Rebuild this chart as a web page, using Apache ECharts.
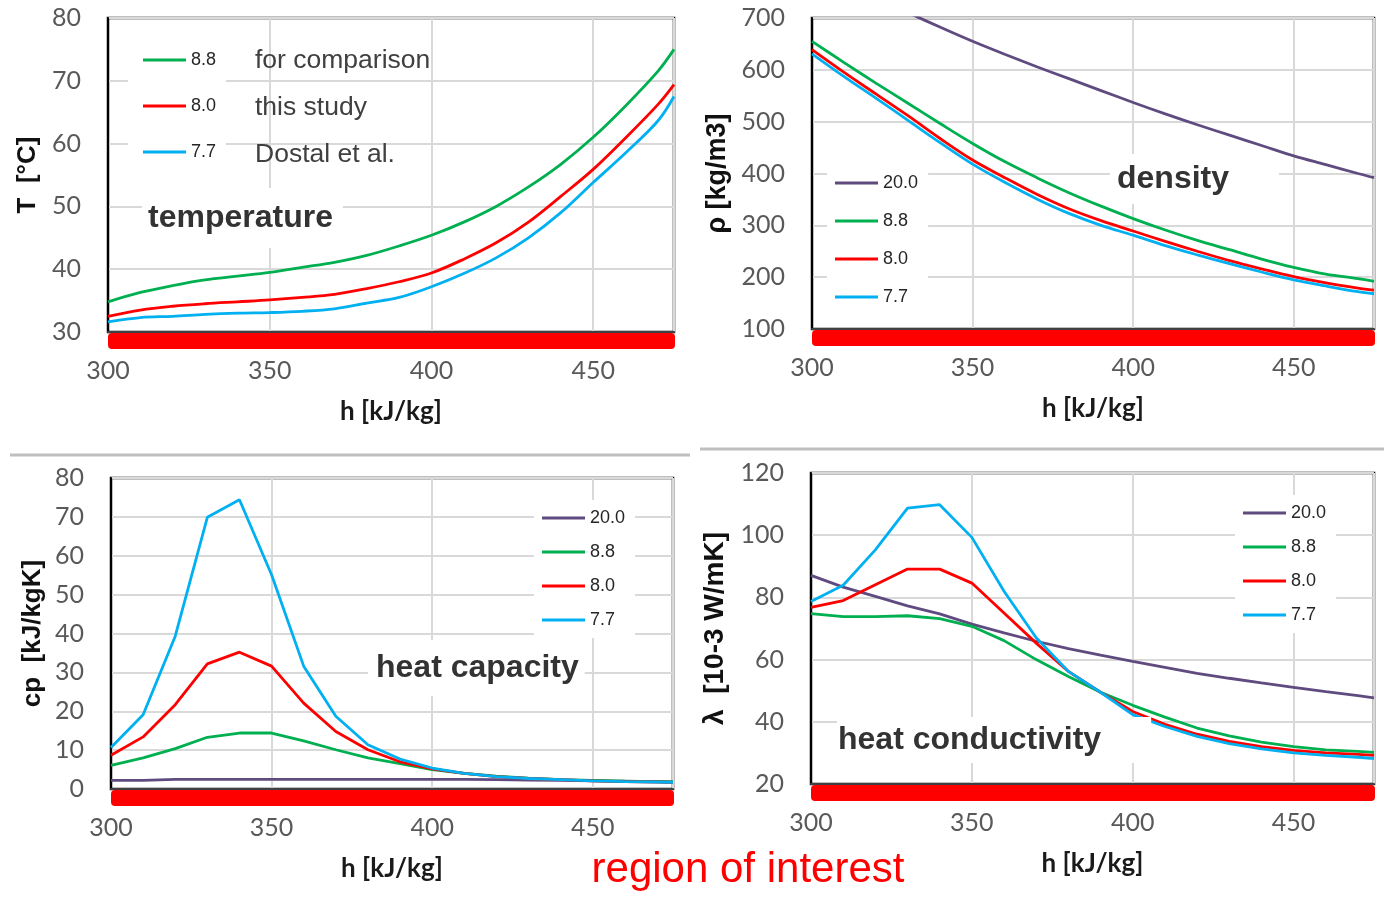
<!DOCTYPE html>
<html>
<head>
<meta charset="utf-8">
<script src="https://cdn.jsdelivr.net/npm/echarts@6/dist/echarts.min.js"></script>
<style>
  html, body { margin: 0; padding: 0; background: #ffffff; }
  #chart { width: 1384px; height: 903px; }
</style>
</head>
<body>
<div id="chart"></div>
<script>
// Enthalpy grid h [kJ/kg]
const enthalpy = [300, 310, 320, 330, 340, 350, 360, 370, 380, 390, 400, 410, 420, 430, 440, 450, 460, 470, 475];

// Pressure levels [MPa] shown in the legends
const pressureNames = ['20.0', '8.8', '8.0', '7.7'];
const pressureColors = { '20.0': '#5f4b7f', '8.8': '#00b050', '8.0': '#ff0000', '7.7': '#00b0f0' };

// Temperature T [°C]
const temp88 = [34.8, 36.3, 37.4, 38.3, 38.9, 39.5, 40.3, 41.1, 42.2, 43.7, 45.4, 47.5, 50.0, 53.1, 56.7, 61.0, 66.0, 71.5, 75.0];
const temp80 = [32.5, 33.5, 34.1, 34.5, 34.8, 35.1, 35.5, 36.0, 36.9, 38.0, 39.4, 41.6, 44.2, 47.5, 51.6, 55.9, 60.9, 66.2, 69.4];
const temp77 = [31.6, 32.3, 32.5, 32.8, 33.0, 33.1, 33.3, 33.7, 34.6, 35.5, 37.2, 39.3, 41.8, 45.0, 49.0, 53.8, 58.5, 63.6, 67.5];

// Density rho [kg/m3]
const dens200 = [797, 768, 739, 710, 682, 655, 630, 606, 583, 560, 537, 515, 494, 474, 454, 434, 417, 400, 392];
const dens88  = [655, 614, 574, 535, 496, 458, 423, 392, 363, 337, 313, 291, 271, 253, 235, 219, 206, 197, 192];
const dens80  = [639, 595, 553, 511, 467, 426, 392, 360, 332, 309, 289, 269, 250, 232, 216, 201, 189, 179, 175];
const dens77  = [631, 587, 545, 502, 459, 418, 383, 351, 323, 300, 281, 261, 243, 226, 210, 195, 183, 172, 168];

// Heat capacity cp [kJ/kgK]
const cp200 = [2.2, 2.2, 2.5, 2.5, 2.5, 2.5, 2.5, 2.5, 2.5, 2.5, 2.5, 2.5, 2.4, 2.3, 2.2, 2.1, 2.0, 1.9, 1.8];
const cp88  = [6.1, 8.0, 10.4, 13.3, 14.4, 14.4, 12.4, 10.1, 8.0, 6.5, 5.0, 4.0, 3.3, 2.8, 2.4, 2.2, 2.0, 1.9, 1.8];
const cp80  = [8.7, 13.4, 21.7, 32.2, 35.2, 31.6, 22.1, 14.8, 10.1, 7.0, 5.2, 4.0, 3.2, 2.7, 2.4, 2.1, 1.9, 1.8, 1.7];
const cp77  = [10.7, 19.1, 39.3, 69.9, 74.4, 55.1, 31.6, 18.7, 11.4, 7.7, 5.4, 4.0, 3.2, 2.7, 2.4, 2.1, 1.9, 1.8, 1.7];

// Heat conductivity lambda [10-3 W/mK]
const lam200 = [87.1, 83.3, 80.3, 77.3, 74.7, 71.4, 68.6, 65.9, 63.5, 61.4, 59.4, 57.5, 55.6, 54.0, 52.5, 51.1, 49.7, 48.4, 47.7];
const lam88  = [74.8, 73.8, 73.8, 74.1, 73.2, 70.7, 66.1, 60.0, 54.6, 49.5, 45.3, 41.5, 38.0, 35.5, 33.5, 32.0, 31.0, 30.5, 30.2];
const lam80  = [76.8, 79.0, 84.1, 89.1, 89.1, 84.6, 75.0, 65.3, 56.2, 49.5, 43.3, 39.2, 36.0, 33.7, 32.0, 30.8, 30.0, 29.5, 29.2];
const lam77  = [78.7, 83.9, 95.3, 108.7, 109.8, 99.3, 82.0, 67.0, 56.2, 49.5, 42.3, 38.5, 35.3, 33.0, 31.3, 30.0, 29.2, 28.6, 28.2];

// Axis ranges
const hMin = 300, hMax = 475, hStep = 50;
const yRanges = [
  { min: 30, max: 80, interval: 10 },
  { min: 100, max: 700, interval: 100 },
  { min: 0, max: 80, interval: 10 },
  { min: 20, max: 120, interval: 20 }
];
const yNames = ['T  [°C]', 'ρ [kg/m3]', 'cp  [kJ/kgK]', 'λ  [10-3 W/mK]'];
const xName = 'h [kJ/kg]';

// Panel contents: which pressure curves go where
const panels = [
  { smooth: true,  curves: { '8.8': temp88, '8.0': temp80, '7.7': temp77 } },
  { smooth: true,  curves: { '20.0': dens200, '8.8': dens88, '8.0': dens80, '7.7': dens77 } },
  { smooth: false, curves: { '20.0': cp200, '8.8': cp88, '8.0': cp80, '7.7': cp77 } },
  { smooth: false, curves: { '20.0': lam200, '8.8': lam88, '8.0': lam80, '7.7': lam77 } }
];

const grids = [
  { left: 108, top: 18,  width: 566, height: 314 },
  { left: 812, top: 18,  width: 562, height: 311 },
  { left: 111, top: 478, width: 562, height: 311 },
  { left: 811, top: 473, width: 563, height: 311 }
];
const yNameGaps = [67, 81, 65, 82];
const yNameSizes = [26, 27, 26, 28];

const gridLineStyle = { color: '#d9d9d9', width: 2 };
const tickFont = { fontFamily: 'Lato', fontSize: 25, color: '#595959' };

const xAxes = grids.map((g, i) => ({
  type: 'value', gridIndex: i, min: hMin, max: hMax, interval: hStep,
  name: xName, nameLocation: 'middle', nameGap: 67,
  nameTextStyle: { fontFamily: 'Lato', fontWeight: 'bold', fontSize: 26, color: '#1a1a1a' },
  axisLine: { show: true, lineStyle: { color: '#404040', width: 2 } },
  axisTick: { show: false },
  axisLabel: Object.assign({ margin: 26, showMaxLabel: false }, tickFont),
  splitLine: { show: true, lineStyle: gridLineStyle }
}));

const yAxes = grids.map((g, i) => Object.assign({
  type: 'value', gridIndex: i,
  name: yNames[i], nameLocation: 'middle', nameGap: yNameGaps[i],
  nameTextStyle: { fontFamily: 'Liberation Sans', fontWeight: 'bold', fontSize: yNameSizes[i], color: '#111' },
  axisLine: { show: true, lineStyle: { color: '#000', width: 2 } },
  axisTick: { show: false },
  axisLabel: Object.assign({ margin: 27 }, tickFont),
  splitLine: { show: true, lineStyle: gridLineStyle }
}, yRanges[i]));

const series = [];
panels.forEach((p, i) => {
  pressureNames.forEach(name => {
    const vals = p.curves[name];
    if (!vals) return;
    series.push({
      type: 'line', name: name, xAxisIndex: i, yAxisIndex: i,
      data: enthalpy.map((h, k) => [h, vals[k]]),
      smooth: p.smooth ? 0.35 : false,
      symbol: 'none', clip: true,
      lineStyle: { color: pressureColors[name], width: 2.8 },
      itemStyle: { color: pressureColors[name] },
      z: 3
    });
  });
});

const legendText = { fontFamily: 'Liberation Sans', fontSize: 18, color: '#262626', lineHeight: 20 };
const legendBase = {
  orient: 'vertical', icon: 'rect', itemWidth: 43, itemHeight: 3,
  backgroundColor: '#ffffff', selectedMode: false, textStyle: legendText, z: 4
};
const legends = [
  Object.assign({}, legendBase, { data: ['8.8', '8.0', '7.7'], left: 128, top: 40, itemGap: 26, padding: [10, 10, 10, 15] }),
  Object.assign({}, legendBase, { data: pressureNames, left: 827, top: 165, itemGap: 18, padding: [8, 10, 8, 8] }),
  Object.assign({}, legendBase, { data: pressureNames, left: 534, top: 500, itemGap: 14, padding: [8, 10, 8, 8] }),
  Object.assign({}, legendBase, { data: pressureNames, left: 1235, top: 495, itemGap: 14, padding: [8, 10, 8, 8] })
];

const chart = echarts.init(document.getElementById('chart'), null, { renderer: 'canvas' });

chart.setOption({
  animation: false,
  backgroundColor: '#ffffff',
  grid: grids.map(g => Object.assign({ show: true, borderColor: '#000', borderWidth: 2.5, backgroundColor: 'transparent' }, g)),
  xAxis: xAxes,
  yAxis: yAxes,
  legend: legends,
  series: series
});

// Red "region of interest" band under each h axis, placed through the axes
const bands = grids.map((g, i) => {
  const a = chart.convertToPixel({ gridIndex: i }, [hMin, yRanges[i].min]);
  const b = chart.convertToPixel({ gridIndex: i }, [hMax, yRanges[i].min]);
  return {
    type: 'rect', z: 10,
    shape: { x: a[0], y: a[1] + 1, width: b[0] - a[0] + 1, height: 16, r: 4 },
    style: { fill: '#ff0000' }
  };
});

const panelTitle = (text, x, y, padding) => ({
  type: 'text', x: x, y: y, z: 20,
  style: {
    text: text, font: 'bold 32px "Liberation Sans"', fill: '#333333',
    align: 'left', verticalAlign: 'middle', backgroundColor: '#ffffff', padding: padding
  }
});
const noteText = (text, y) => ({
  type: 'text', x: 255, y: y, z: 20,
  style: { text: text, font: '26.5px "Liberation Sans"', fill: '#404040', align: 'left', verticalAlign: 'middle' }
});

chart.setOption({
  graphic: [
    { type: 'line', z: 1, shape: { x1: 10, y1: 455, x2: 690, y2: 455 }, style: { stroke: '#bfbfbf', lineWidth: 3 } },
    { type: 'line', z: 1, shape: { x1: 700, y1: 449, x2: 1384, y2: 449 }, style: { stroke: '#bfbfbf', lineWidth: 3 } },
    panelTitle('temperature', 142, 218, [14, 10, 14, 6]),
    panelTitle('density', 1110, 179, [6, 50, 12, 7]),
    panelTitle('heat capacity', 368, 668, [12, 6, 12, 8]),
    panelTitle('heat conductivity', 837, 740, [4, 50, 10, 1]),
    noteText('for comparison', 61),
    noteText('this study', 108),
    noteText('Dostal et al.', 155),
    {
      type: 'text', x: 748, y: 870, z: 20,
      style: { text: 'region of interest', font: '42px "Liberation Sans"', fill: '#ff0000', align: 'center', verticalAlign: 'middle' }
    }
  ].concat(bands)
});
</script>
</body>
</html>
